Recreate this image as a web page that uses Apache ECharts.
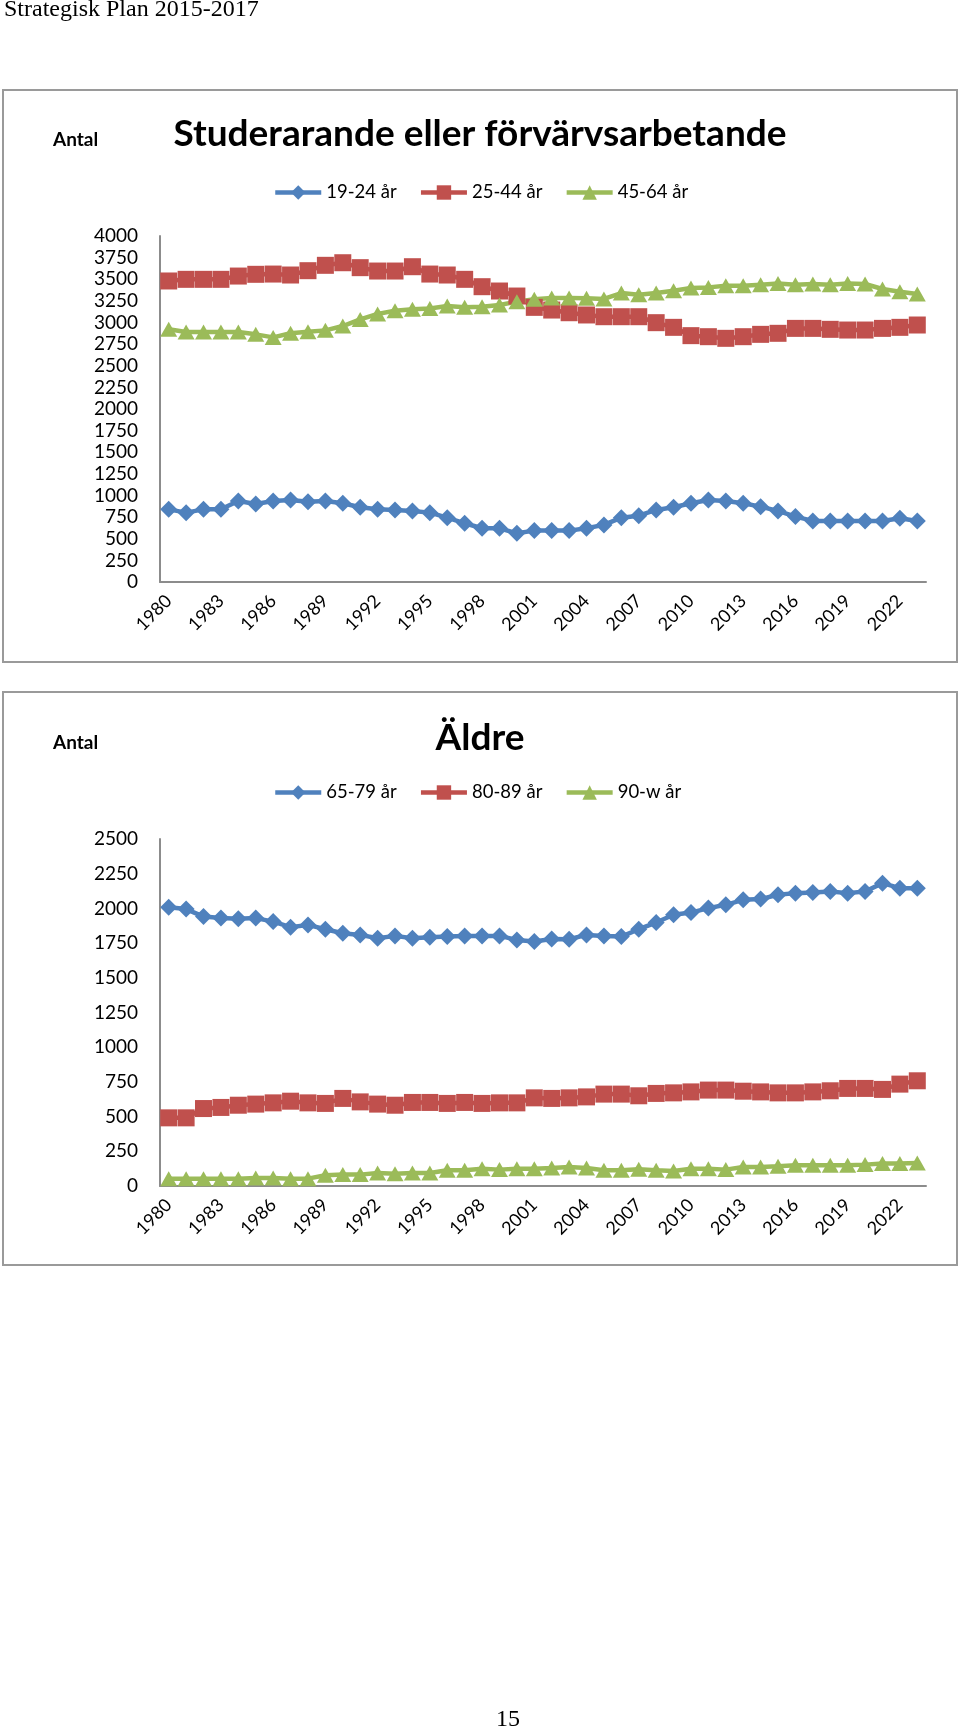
<!DOCTYPE html>
<html>
<head>
<meta charset="utf-8">
<script src="https://cdn.jsdelivr.net/npm/echarts@6/dist/echarts.min.js"></script>
<style>
html,body{margin:0;padding:0;background:#fff;}
#main{width:960px;height:1732px;}
</style>
</head>
<body>
<div id="main"></div>
<script>
// ---- Data ----
const years = ['1980','1981','1982','1983','1984','1985','1986','1987','1988','1989',
  '1990','1991','1992','1993','1994','1995','1996','1997','1998','1999',
  '2000','2001','2002','2003','2004','2005','2006','2007','2008','2009',
  '2010','2011','2012','2013','2014','2015','2016','2017','2018','2019',
  '2020','2021','2022','2023'];

// Chart 1: Studerarande eller förvärvsarbetande
const age19_24 = [840, 802, 840, 840, 937, 902, 937, 948, 929, 937,
  910, 864, 840, 833, 821, 802, 744, 679, 621, 621,
  563, 594, 594, 594, 621, 660, 744, 767, 833, 864,
  910, 948, 937, 910, 871, 821, 756, 706, 706, 706,
  706, 706, 737, 706];
const age25_44 = [3480, 3499, 3499, 3499, 3537, 3557, 3560, 3549, 3599, 3661,
  3691, 3634, 3595, 3595, 3645, 3560, 3549, 3499, 3414, 3364,
  3306, 3175, 3144, 3113, 3087, 3067, 3067, 3067, 2998, 2944,
  2848, 2836, 2817, 2836, 2863, 2875, 2932, 2932, 2921, 2913,
  2913, 2932, 2944, 2971];
const age45_64 = [2921, 2890, 2890, 2890, 2890, 2863, 2828, 2875, 2894, 2909,
  2959, 3036, 3098, 3137, 3152, 3163, 3191, 3175, 3183, 3202,
  3241, 3268, 3283, 3283, 3279, 3272, 3341, 3322, 3341, 3368,
  3399, 3406, 3426, 3426, 3437, 3452, 3437, 3445, 3437, 3452,
  3445, 3387, 3356, 3329];

// Chart 2: Äldre
const age65_79 = [2009, 1995, 1941, 1930, 1925, 1930, 1905, 1865, 1881, 1850,
  1821, 1809, 1785, 1802, 1785, 1793, 1797, 1802, 1802, 1802,
  1773, 1761, 1780, 1778, 1809, 1802, 1797, 1850, 1898, 1954,
  1970, 2002, 2026, 2062, 2067, 2098, 2110, 2115, 2122, 2110,
  2122, 2182, 2146, 2146];
const age80_89 = [491, 491, 558, 566, 582, 590, 599, 611, 599, 595,
  631, 606, 590, 582, 602, 602, 595, 602, 595, 599,
  599, 635, 631, 635, 642, 662, 662, 650, 667, 671,
  678, 691, 691, 683, 678, 671, 671, 678, 686, 703,
  703, 696, 734, 758];
const age90w = [53, 53, 53, 53, 53, 58, 58, 53, 53, 77,
  82, 82, 94, 89, 94, 94, 113, 113, 125, 118,
  125, 125, 130, 137, 130, 113, 113, 120, 113, 108,
  125, 125, 118, 137, 137, 142, 149, 149, 149, 149,
  154, 162, 162, 166];

const seriesNames1 = ['19-24 år', '25-44 år', '45-64 år'];
const seriesNames2 = ['65-79 år', '80-89 år', '90-w år'];
const chartTitle1 = 'Studerarande eller förvärvsarbetande';
const chartTitle2 = 'Äldre';

// ---- Styling ----
const FONT = 'Lato, "Open Sans", "Liberation Sans", sans-serif';
const BLUE = '#4F81BD', RED = '#C0504D', GREEN = '#9BBB59';

function mkSeries(name, data, color, symbol, size, idx) {
  return {
    name: name, type: 'line', data: data,
    xAxisIndex: idx, yAxisIndex: idx,
    symbol: symbol, symbolSize: size, showAllSymbol: true,
    lineStyle: {color: color, width: 4.5},
    itemStyle: {color: color},
    emphasis: {disabled: true}
  };
}

const axisLineStyle = {show: true, lineStyle: {color: '#8c8c8c', width: 2}};
function mkX(idx) {
  return {
    type: 'category', gridIndex: idx, data: years, boundaryGap: true,
    axisLine: axisLineStyle, axisTick: {show: false},
    axisLabel: {interval: 2, rotate: 45, margin: 16, fontFamily: FONT, fontSize: 18, color: '#000'},
    splitLine: {show: false}
  };
}
function mkY(idx, max) {
  return {
    type: 'value', gridIndex: idx, min: 0, max: max, interval: 250,
    axisLine: axisLineStyle, axisTick: {show: false},
    axisLabel: {margin: 22, fontFamily: FONT, fontSize: 19, color: '#000',
                formatter: function (v) { return String(v); }},
    splitLine: {show: false}
  };
}
function mkLegend(names, top) {
  return {
    data: names, left: 273, top: top, orient: 'horizontal',
    itemWidth: 46, itemHeight: 18, itemGap: 22, padding: 0,
    lineStyle: {width: 4.5},
    textStyle: {fontFamily: FONT, fontSize: 18.5, color: '#000'},
    selectedMode: false
  };
}

const chart = echarts.init(document.getElementById('main'), null, {renderer: 'canvas'});
chart.setOption({
  backgroundColor: '#fff',
  animation: false,
  title: [
    {text: chartTitle1, left: 'center', top: 116, padding: 0,
     textStyle: {fontFamily: FONT, fontSize: 37, fontWeight: 'bold', color: '#000'}},
    {text: chartTitle2, left: 'center', top: 720, padding: 0,
     textStyle: {fontFamily: FONT, fontSize: 37, fontWeight: 'bold', color: '#000'}}
  ],
  legend: [mkLegend(seriesNames1, 183), mkLegend(seriesNames2, 783)],
  grid: [
    {left: 160, top: 236, width: 766, height: 346},
    {left: 160, top: 839, width: 766, height: 347}
  ],
  xAxis: [mkX(0), mkX(1)],
  yAxis: [mkY(0, 4000), mkY(1, 2500)],
  series: [
    mkSeries(seriesNames1[0], age19_24, BLUE, 'diamond', 17, 0),
    mkSeries(seriesNames1[1], age25_44, RED, 'rect', 17, 0),
    mkSeries(seriesNames1[2], age45_64, GREEN, 'triangle', [17, 15], 0),
    mkSeries(seriesNames2[0], age65_79, BLUE, 'diamond', 17, 1),
    mkSeries(seriesNames2[1], age80_89, RED, 'rect', 17, 1),
    mkSeries(seriesNames2[2], age90w, GREEN, 'triangle', [17, 15], 1)
  ],
  graphic: [
    {type: 'rect', z: -10, silent: true, shape: {x: 3, y: 90, width: 954, height: 572},
     style: {fill: 'none', stroke: '#9a9a9a', lineWidth: 2}},
    {type: 'rect', z: -10, silent: true, shape: {x: 3, y: 692, width: 954, height: 573},
     style: {fill: 'none', stroke: '#9a9a9a', lineWidth: 2}},
    {type: 'text', x: 4, y: 10, silent: true,
     style: {text: 'Strategisk Plan 2015-2017', fontFamily: '"Liberation Serif", "DejaVu Serif", serif',
             fontSize: 24, fill: '#000', align: 'left', verticalAlign: 'middle'}},
    {type: 'text', x: 53, y: 140, silent: true,
     style: {text: 'Antal', fontFamily: FONT, fontSize: 19, fontWeight: 'bold', fill: '#000',
             align: 'left', verticalAlign: 'middle'}},
    {type: 'text', x: 53, y: 743, silent: true,
     style: {text: 'Antal', fontFamily: FONT, fontSize: 19, fontWeight: 'bold', fill: '#000',
             align: 'left', verticalAlign: 'middle'}},
    {type: 'text', x: 508, y: 1720, silent: true,
     style: {text: '15', fontFamily: '"Liberation Serif", "DejaVu Serif", serif',
             fontSize: 24, fill: '#000', align: 'center', verticalAlign: 'middle'}}
  ]
});
</script>
</body>
</html>
